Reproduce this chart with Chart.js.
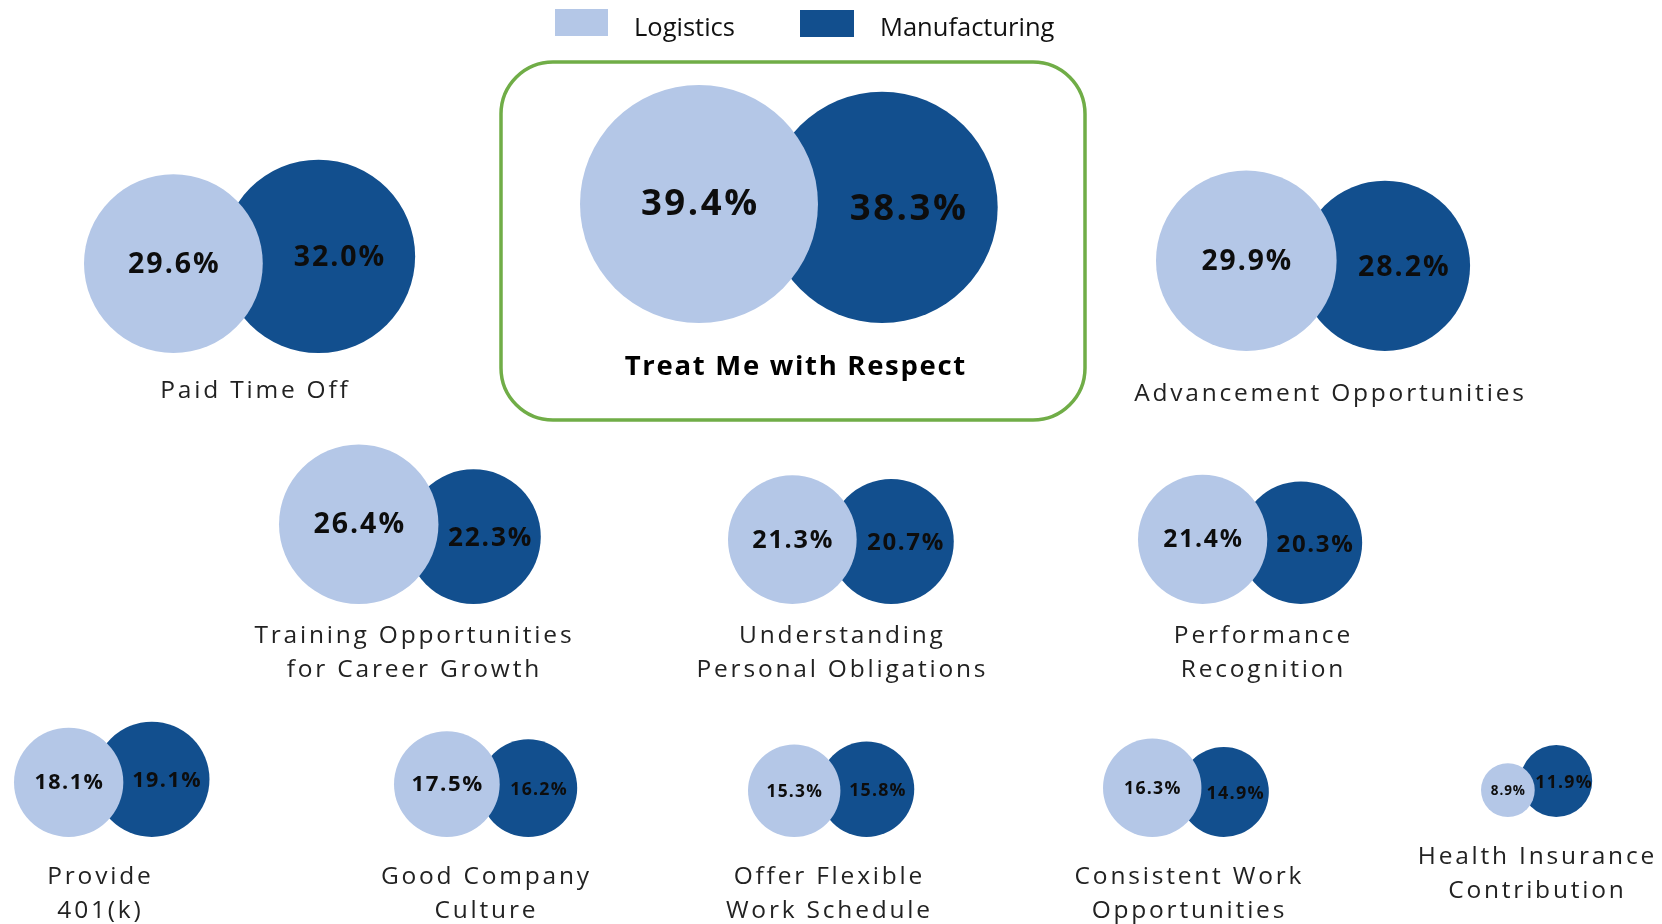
<!DOCTYPE html>
<html>
<head>
<meta charset="utf-8">
<script src="https://cdn.jsdelivr.net/npm/chart.js@4.4.1/dist/chart.umd.min.js"></script>
<style>
  html, body { margin: 0; padding: 0; background: #fff; }
  #wrap { width: 1662px; height: 924px; }
</style>
</head>
<body>
<div id="wrap"><canvas id="bubbles" width="1662" height="924"></canvas></div>
<script>
// Categories, each split into the lines used for its caption
const categories = [
  ['Treat Me with Respect'],
  ['Paid Time Off'],
  ['Advancement Opportunities'],
  ['Training Opportunities', 'for Career Growth'],
  ['Understanding', 'Personal Obligations'],
  ['Performance', 'Recognition'],
  ['Provide', '401(k)'],
  ['Good Company', 'Culture'],
  ['Offer Flexible', 'Work Schedule'],
  ['Consistent Work', 'Opportunities'],
  ['Health Insurance', 'Contribution']
];

const seriesNames = ['Logistics', 'Manufacturing'];
const logistics = [39.4, 29.6, 29.9, 26.4, 21.3, 21.4, 18.1, 17.5, 15.3, 16.3, 8.9];
const manufacturing = [38.3, 32.0, 28.2, 22.3, 20.7, 20.3, 19.1, 16.2, 15.8, 14.9, 11.9];

// Layout of each pair on the page (pixels)
const pairLeft = [580, 84, 1156, 279, 728, 1138, 14, 394, 748, 1103, 1481];
const pairBottom = [323, 353, 351, 604, 604, 604, 837, 837, 837, 837, 817];
const overlapShare = [0.78, 0.78, 0.79, 0.78, 0.78, 0.78, 0.74, 0.8, 0.77, 0.76, 0.77];
const captionX = [795, 254, 1329, 413, 841, 1262, 99, 485, 828, 1188, 1536];
const captionY = [367, 391, 394, 636, 636, 636, 877, 877, 877, 877, 857];
const pctSizeLight = [36.5, 28.5, 28.2, 28.5, 25.2, 24.7, 21.5, 22.2, 17.4, 17.7, 13.5];
const pctSizeDark = [36.5, 28.5, 28.5, 26.2, 24, 24, 21.5, 17.7, 17.7, 18, 17.7];

const radiusPerPoint = 3.02;
const colorLight = '#B4C7E7';
const colorDark = '#124F8E';

// Build bubble points from the values
const lightPoints = [];
const darkPoints = [];
logistics.forEach((v, i) => {
  const rL = v * radiusPerPoint;
  const rD = manufacturing[i] * radiusPerPoint;
  const xL = pairLeft[i] + rL;
  const xD = xL + overlapShare[i] * (rL + rD);
  lightPoints.push({ x: xL, y: pairBottom[i] - rL, r: rL });
  darkPoints.push({ x: xD, y: pairBottom[i] - rD, r: rD });
});

// Centered text with letter spacing (trailing space compensated)
function spacedText(ctx, text, x, y, spacing) {
  ctx.letterSpacing = spacing + 'px';
  ctx.fillText(text, x + spacing / 2, y);
}

// Text, legend and highlight box
const overlayPlugin = {
  id: 'overlay',
  beforeDatasetsDraw(chart) {
    const ctx = chart.ctx;
    ctx.save();
    ctx.strokeStyle = '#70AD47';
    ctx.lineWidth = 3.5;
    ctx.beginPath();
    ctx.roundRect(501, 62, 584, 358, 52);
    ctx.stroke();
    ctx.restore();
  },
  afterDatasetsDraw(chart) {
    const ctx = chart.ctx;
    const light = chart.getDatasetMeta(0).data;
    const dark = chart.getDatasetMeta(1).data;
    ctx.save();
    ctx.textAlign = 'center';
    ctx.textBaseline = 'middle';

    categories.forEach((lines, i) => {
      const a = light[i], b = dark[i];
      const rA = lightPoints[i].r, rB = darkPoints[i].r;
      ctx.fillStyle = '#0d0d0d';

      const sL = pctSizeLight[i], sD = pctSizeDark[i];
      ctx.font = `bold ${sL}px "Open Sans"`;
      spacedText(ctx, logistics[i].toFixed(1) + '%', a.x, a.y + 1, sL * 0.07);

      ctx.font = `bold ${sD}px "Open Sans"`;
      const darkX = ((a.x + rA) + (b.x + rB)) / 2;
      spacedText(ctx, manufacturing[i].toFixed(1) + '%', darkX, b.y + 2, sD * 0.07);

      let spacing;
      if (i === 0) {
        spacing = 1.7;
        ctx.font = 'bold 27.5px "Open Sans"';
        ctx.fillStyle = '#000';
      } else {
        spacing = 2.8;
        ctx.font = '24.5px "Open Sans"';
        ctx.fillStyle = '#222';
      }
      lines.forEach((line, j) => {
        spacedText(ctx, line, captionX[i], captionY[i] + j * 34, spacing);
      });
    });

    // Legend
    ctx.letterSpacing = '0px';
    ctx.font = '25.5px "Open Sans"';
    ctx.textAlign = 'left';
    ctx.fillStyle = colorLight;
    ctx.fillRect(555, 9, 53, 27);
    ctx.fillStyle = colorDark;
    ctx.fillRect(800, 10, 54, 27);
    ctx.fillStyle = '#111';
    ctx.fillText(seriesNames[0], 634, 29);
    ctx.fillText(seriesNames[1], 880, 29);
    ctx.restore();
  }
};

new Chart(document.getElementById('bubbles'), {
  type: 'bubble',
  data: {
    datasets: [
      {
        label: seriesNames[0],
        data: lightPoints,
        backgroundColor: colorLight,
        borderWidth: 0,
        hoverRadius: 0,
        hoverBorderWidth: 0
      },
      {
        label: seriesNames[1],
        data: darkPoints,
        backgroundColor: colorDark,
        borderWidth: 0,
        hoverRadius: 0,
        hoverBorderWidth: 0
      }
    ]
  },
  options: {
    responsive: false,
    animation: false,
    events: [],
    clip: false,
    layout: { padding: 0, autoPadding: false },
    plugins: {
      legend: { display: false },
      tooltip: { enabled: false }
    },
    scales: {
      x: { type: 'linear', min: 0, max: 1662, display: false },
      y: { type: 'linear', min: 0, max: 924, reverse: true, display: false }
    }
  },
  plugins: [overlayPlugin]
});
</script>
</body>
</html>
